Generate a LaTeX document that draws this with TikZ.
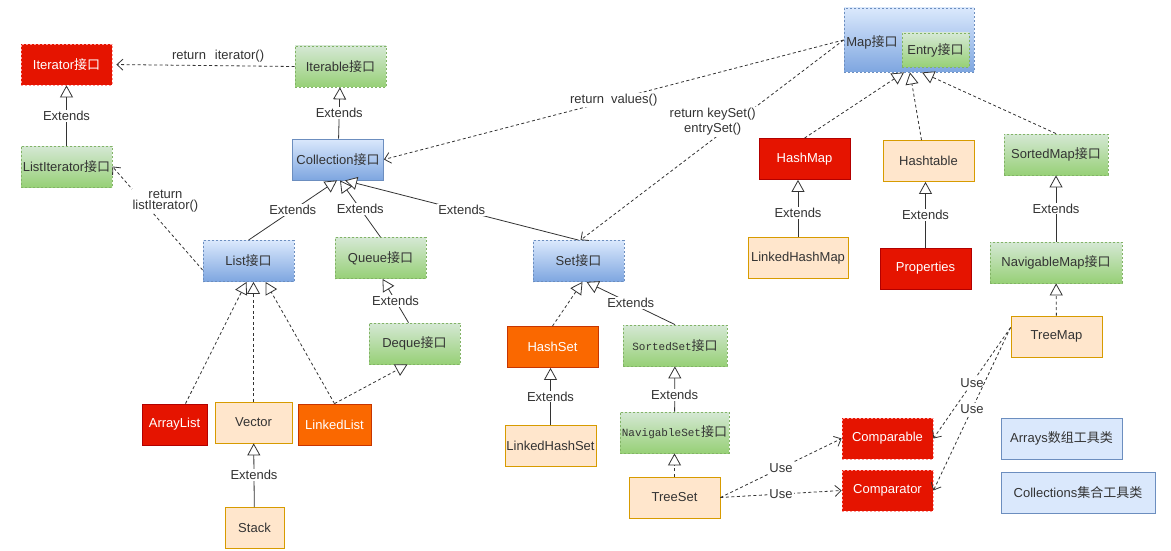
\documentclass[tikz,border=0pt]{standalone}
\usepackage{fontspec}
\setmainfont{Liberation Sans}
\newfontfamily\cjk{Noto Sans CJK SC}
\newfontfamily\monofont{Liberation Mono}
\usetikzlibrary{arrows.meta}
\definecolor{jred}{HTML}{E51400}
\definecolor{jredline}{HTML}{B20000}
\definecolor{jpink}{HTML}{FF9999}
\definecolor{jorange}{HTML}{FA6800}
\definecolor{jorangeline}{HTML}{C73500}
\definecolor{peach}{HTML}{FFE6CC}
\definecolor{peachline}{HTML}{D79B00}
\definecolor{lightgreen}{HTML}{D5E8D4}
\definecolor{darkgreen}{HTML}{97D077}
\definecolor{greenline}{HTML}{82B366}
\definecolor{lightblue}{HTML}{DAE8FC}
\definecolor{darkblue}{HTML}{7EA6E0}
\definecolor{blueline}{HTML}{6C8EBF}
\definecolor{txtgray}{HTML}{333333}
\newcommand{\jk}{{\cjk 接口}}
\newcommand{\mjk}{{\cjk\fontsize{13}{15}\selectfont 接口}}
\tikzset{
  box/.style={rectangle, minimum width=91pt, minimum height=41pt, inner sep=0pt,
    font=\fontsize{13}{15}\selectfont, text=txtgray, line width=0.8pt},
  redbox/.style={box, fill=jred, draw=jredline, text=white},
  redboxd/.style={redbox, draw=jpink, dash pattern=on 2pt off 2pt},
  orangebox/.style={box, fill=jorange, draw=jorangeline, text=white},
  peachbox/.style={box, fill=peach, draw=peachline},
  greenbox/.style={box, top color=lightgreen, bottom color=darkgreen, draw=greenline,
    dash pattern=on 2pt off 2pt},
  bluebox/.style={box, top color=lightblue, bottom color=darkblue, draw=blueline,
    dash pattern=on 2pt off 2pt},
  toolbox/.style={box, fill=lightblue, draw=blueline},
  monobox/.style={font=\monofont\fontsize{11}{13}\selectfont},
  lbl/.style={fill=white, inner sep=1pt, text=txtgray, font=\fontsize{13}{15}\selectfont},
  ext/.style={draw=txtgray, line width=0.8pt, -{Triangle[length=12pt,width=13pt,fill=white]}},
  impl/.style={ext, dash pattern=on 3pt off 2.5pt},
  dep/.style={draw=txtgray, line width=0.8pt, dash pattern=on 3pt off 2.5pt,
    -{Straight Barb[length=6pt,width=11pt]}}
}
\begin{document}
\begin{tikzpicture}[x=1pt,y=-1pt]
  \useasboundingbox (0,0) rectangle (1171,551);
  % Collection side
  \node[redboxd] (iterator) at (66.5,64.5) {Iterator\jk};
  \node[greenbox] (iterable) at (340.5,66.5) {Iterable\jk};
  \node[greenbox] (listiter) at (66.5,166.5) {ListIterator\jk};
  \node[bluebox, solid] (collection) at (338,159.5) {Collection\jk};
  \node[bluebox] (list) at (248.5,261) {List\jk};
  \node[greenbox] (queue) at (380.5,258) {Queue\jk};
  \node[greenbox] (deque) at (414.5,343.5) {Deque\jk};
  \node[bluebox] (set) at (578.5,261) {Set\jk};
  \node[redbox, minimum width=65pt] (arraylist) at (174.5,424.5) {ArrayList};
  \node[peachbox, minimum width=77pt] (vector) at (253.5,422.5) {Vector};
  \node[orangebox, minimum width=73pt] (linkedlist) at (334.5,424.5) {LinkedList};
  \node[peachbox, minimum width=59pt] (stack) at (254.5,528) {Stack};
  \node[orangebox] (hashset) at (552.5,347) {HashSet};
  \node[peachbox] (linkedhashset) at (550.5,446) {LinkedHashSet};
  \node[greenbox, monobox, minimum width=104pt] (sortedset) at (675,345.5) {SortedSet\mjk};
  \node[greenbox, monobox, minimum width=109pt] (navset) at (674.5,432.5) {NavigableSet\mjk};
  \node[peachbox] (treeset) at (674.5,497.5) {TreeSet};
  \node[redboxd] (comparable) at (887.5,438.5) {Comparable};
  \node[redboxd] (comparator) at (887.5,490.5) {Comparator};
  \node[toolbox, minimum width=121pt] (arrays) at (1061.5,438.5) {Arrays{\cjk 数组工具类}};
  \node[toolbox, minimum width=154pt] (collections) at (1078,493) {Collections{\cjk 集合工具类}};
  % Map side
  \node[bluebox, minimum width=130pt, minimum height=64pt] (map) at (909,40) {};
  \node[text=txtgray, font=\fontsize{13}{15}\selectfont, inner sep=0pt] (maplabel) at (872,42) {Map\jk};
  \node[greenbox, minimum width=67pt, minimum height=34pt] (entry) at (935.5,50) {Entry\jk};
  \node[redbox] (hashmap) at (804.5,159) {HashMap};
  \node[peachbox] (hashtable) at (928.5,161) {Hashtable};
  \node[greenbox, minimum width=104pt] (sortedmap) at (1056,154.5) {SortedMap\jk};
  \node[peachbox, minimum width=100pt] (linkedhashmap) at (798,258) {LinkedHashMap};
  \node[redbox] (properties) at (925.5,268.5) {Properties};
  \node[greenbox, minimum width=132pt] (navmap) at (1056,262.5) {NavigableMap\jk};
  \node[peachbox] (treemap) at (1056.5,336.5) {TreeMap};

  \draw[dep, shorten >=4pt] (iterable.west) -- node[lbl, above=2pt, fill=none, pos=0.42] {return\hspace{9pt}iterator()} (iterator.east);
  \draw[ext] (listiter) -- node[lbl, pos=0.49] {Extends} (iterator);
  \draw[ext] (collection) -- node[lbl] {Extends} (iterable);
  \draw[dep] ([yshift=-9pt]list.west) -- node[lbl, align=center, pos=0.667, xshift=23pt] {return\\[-4pt]listIterator()} (listiter.east);
  \draw[dep] (map.west) -- node[lbl, pos=0.5] {return\hspace{7pt}values()} (collection.east);
  \draw[dep] (map.west) -- node[lbl, align=center, pos=0.41, xshift=-23pt] {return keySet()\\entrySet()} ([xshift=2pt]set.north);
  \draw[ext] (list.north) -- node[lbl] {Extends} ([xshift=-1pt]collection.south);
  \draw[ext] (queue.north) -- node[lbl] {Extends} ([xshift=2pt]collection.south);
  \draw[ext] (set.north) -- node[lbl] {Extends} ([xshift=7pt]collection.south);
  \draw[ext] ([xshift=-6pt]deque.north) -- node[lbl] {Extends} ([xshift=2pt]queue.south);
  \draw[impl] ([xshift=11pt]arraylist.north) -- ([xshift=-2pt]list.south);
  \draw[impl] (vector.north) -- ([xshift=5pt]list.south);
  \draw[impl] (linkedlist.north) -- ([xshift=17pt]list.south);
  \draw[impl] (linkedlist.north) -- ([xshift=-7pt]deque.south);
  \draw[ext] (stack) -- node[lbl] {Extends} (vector);
  \draw[impl] (hashset.north) -- ([xshift=4pt]set.south);
  \draw[ext] (sortedset.north) -- node[lbl] {Extends} ([xshift=8pt]set.south);
  \draw[ext] (linkedhashset.north) -- node[lbl] {Extends} (linkedhashset.north |- hashset.south);
  \draw[ext] (navset) -- node[lbl, pos=0.37] {Extends} (sortedset);
  \draw[impl] (treeset) -- (navset);
  \draw[dep] (treeset.east) -- node[lbl] {Use} (comparable.west);
  \draw[dep] (treeset.east) -- node[lbl] {Use} (comparator.west);
  \draw[dep] ([yshift=9pt]treemap.west) -- node[lbl] {Use} (comparable.east);
  \draw[dep] ([yshift=9pt]treemap.west) -- node[lbl] {Use} (comparator.east);
  \draw[impl] (hashmap.north) -- ([xshift=-5pt]map.south);
  \draw[impl] ([xshift=-7pt]hashtable.north) -- ([xshift=1pt]map.south);
  \draw[impl] (sortedmap.north) -- ([xshift=13pt]map.south);
  \draw[ext] (linkedhashmap.north) -- node[lbl, pos=0.42] {Extends} (linkedhashmap.north |- hashmap.south);
  \draw[ext] (properties.north) -- node[lbl] {Extends} (properties.north |- hashtable.south);
  \draw[ext] (navmap) -- node[lbl] {Extends} (sortedmap);
  \draw[impl] (treemap) -- (navmap);
\end{tikzpicture}
\end{document}
